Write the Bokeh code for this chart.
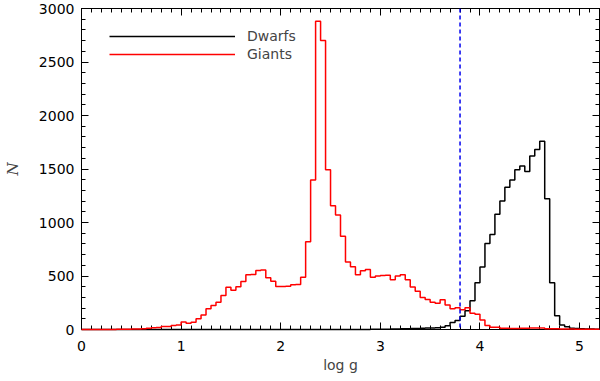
import numpy as np
from bokeh.plotting import figure
from bokeh.models import (Range1d, LinearAxis, SingleIntervalTicker, Span, Legend,
                          LegendItem)
from bokeh.embed import file_html
from bokeh.resources import INLINE

# ---- data -------------------------------------------------------------
bin_start = 0.0
bin_width = 0.05
cut_logg = 3.8

giants = [0, 0, 0, 0, 1, 1, 1, 2, 2, 3,
          4, 5, 8, 12, 17, 19, 27, 29, 38, 42,
          71, 59, 68, 101, 135, 194, 225, 255, 317, 394,
          366, 400, 449, 511, 514, 552, 555, 483, 452, 403,
          402, 405, 418, 420, 488, 821, 1397, 2880, 2700, 1492,
          1157, 1071, 872, 630, 587, 511, 548, 560, 489, 500,
          505, 508, 465, 500, 511, 465, 397, 357, 298, 280,
          255, 246, 277, 228, 194, 203, 185, 203, 151, 142,
          89, 37, 22, 20, 12, 11, 10, 10, 11, 12,
          15, 14, 13, 8, 7, 6, 5, 4, 4, 3,
          3, 3, 2, 2]

dwarfs = [0] * 56 + [1, 1, 2, 2, 3, 3, 4, 5, 6, 8,
                     10, 10, 12, 13, 15, 16, 22, 34, 65, 83,
                     123, 175, 268, 437, 585, 803, 889, 1077, 1200, 1329,
                     1397, 1492, 1529, 1477, 1621, 1683, 1760, 1221, 437, 129,
                     42, 25, 12, 10, 6, 5, 4, 3]

x_ticks_major = 1
y_ticks_major = 500

# ---- figure -----------------------------------------------------------
FONT = "DejaVu Sans"
p = figure(width=600, height=381, output_backend="svg", toolbar_location=None,
           x_range=Range1d(0, 5.2), y_range=Range1d(0, 3000),
           x_axis_location=None, y_axis_location=None,
           min_border_left=79, min_border_right=1, min_border_top=8, min_border_bottom=52)
p.grid.visible = False
p.outline_line_color = "black"
p.outline_line_width = 1
p.background_fill_color = "white"
p.border_fill_color = "white"


def make_axis(ticker, labels=True):
    ax = LinearAxis(ticker=ticker)
    ax.major_tick_in = 7
    ax.major_tick_out = 0
    ax.minor_tick_in = 4
    ax.minor_tick_out = 0
    ax.axis_line_color = "black"
    ax.major_tick_line_color = "black"
    ax.minor_tick_line_color = "black"
    ax.major_label_text_font = FONT
    ax.major_label_text_color = "black"
    if labels:
        ax.major_label_text_font_size = "14px"
    else:
        ax.major_label_text_font_size = "0px"
        ax.major_label_text_color = None
        ax.major_label_standoff = 0
    return ax


xt = lambda: SingleIntervalTicker(interval=x_ticks_major, num_minor_ticks=10)
yt = lambda: SingleIntervalTicker(interval=y_ticks_major, num_minor_ticks=5)

xb = make_axis(xt())
xb.major_label_standoff = 11
xb.axis_label = "log g"
xb.axis_label_text_font = FONT
xb.axis_label_text_font_style = "normal"
xb.axis_label_text_font_size = "14px"
xb.axis_label_standoff = 3
p.add_layout(xb, "below")

yl = make_axis(yt())
yl.major_label_standoff = 7
yl.axis_label = "N"
yl.axis_label_text_font = "DejaVu Serif"
yl.axis_label_text_font_style = "italic"
yl.axis_label_text_font_size = "15px"
yl.axis_label_standoff = 14
p.add_layout(yl, "left")
p.add_layout(make_axis(xt(), labels=False), "above")
p.add_layout(make_axis(yt(), labels=False), "right")

# ---- histograms -------------------------------------------------------
edges = bin_start + bin_width * np.arange(len(giants) + 1)
rb = p.step(x=edges, y=dwarfs + [dwarfs[-1]], mode="after",
            line_color="black", line_width=1.5, level="annotation")
rr = p.step(x=edges, y=giants + [giants[-1]], mode="after",
            line_color="red", line_width=1.5, level="annotation")

p.add_layout(Span(location=cut_logg, dimension="height", line_color="#0000ee",
                  line_width=1.5, line_dash="4 3"))

legend = Legend(items=[LegendItem(label="Dwarfs", renderers=[rb]),
                       LegendItem(label="Giants", renderers=[rr])],
                location=(28, 266), glyph_width=126, glyph_height=18,
                label_height=18, label_standoff=12, spacing=0, padding=0, margin=0,
                border_line_color=None, background_fill_alpha=0,
                label_text_font=FONT, label_text_font_size="14px")
p.add_layout(legend)

open("out.html", "w").write(file_html(p, INLINE))
